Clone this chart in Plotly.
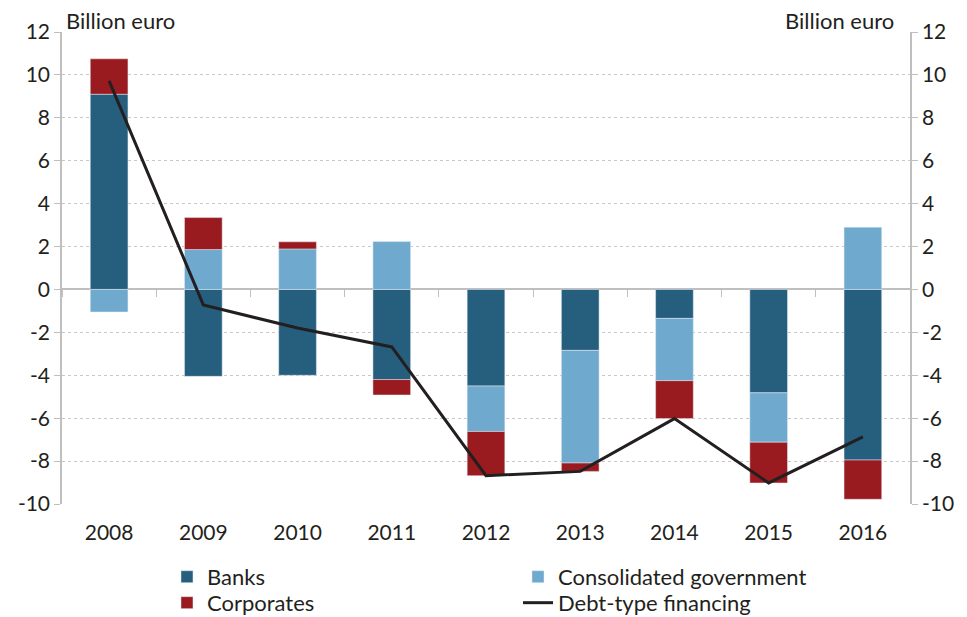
import plotly.graph_objects as go

years = [2008, 2009, 2010, 2011, 2012, 2013, 2014, 2015, 2016]
banks = [9.1, -4.05, -4.0, -4.2, -4.5, -2.84, -1.35, -4.82, -7.95]
government = [-1.05, 1.86, 1.89, 2.23, -2.12, -5.25, -2.9, -2.3, 2.9]
corporates = [1.65, 1.49, 0.33, -0.72, -2.06, -0.39, -1.77, -1.9, -1.83]
debt_financing = [9.72, -0.72, -1.8, -2.68, -8.68, -8.48, -6.02, -9.02, -6.87]

y_min, y_max = -10, 12
y_ticks = list(range(-10, 13, 2))
y_ticktext = [str(v) for v in y_ticks]
font_family = "Lato, 'Open Sans', sans-serif"
txt = "#231F20"
fs = 21

fig = go.Figure()
fig.add_bar(x=years, y=banks, name="Banks", marker_color="#265E7E", width=0.4, legend="legend")
fig.add_bar(x=years, y=government, name="Consolidated government", marker_color="#6FA9CD",
            width=0.4, legend="legend")
fig.add_bar(x=years, y=corporates, name="Corporates", marker_color="#9A1B1F", width=0.4,
            legend="legend2")
fig.add_scatter(x=years, y=debt_financing, name="Debt-type financing", mode="lines",
                line=dict(color=txt, width=3), legend="legend2")
# invisible trace to activate right axis
fig.add_scatter(x=years, y=debt_financing, yaxis="y2", mode="lines", showlegend=False,
                line=dict(width=0), hoverinfo="skip", opacity=0)

zero_pos = (0 - y_min) / (y_max - y_min)

legend_common = dict(orientation="h", xanchor="left", yanchor="top",
                     entrywidth=306, entrywidthmode="pixels", font=dict(size=22),
                     itemwidth=30, tracegroupgap=0, traceorder="normal",
                     bgcolor="rgba(0,0,0,0)")

fig.update_layout(
    width=959, height=609,
    margin=dict(l=54, r=57, t=24, b=113, autoexpand=False),
    barmode="relative",
    plot_bgcolor="white", paper_bgcolor="white",
    font=dict(family=font_family, size=fs, color=txt),
    xaxis=dict(range=[2007.5, 2016.5], tickvals=years, ticktext=[str(y) for y in years],
               showgrid=False, showline=False, ticks="", zeroline=False,
               ticklabelstandoff=14, tickfont=dict(size=fs)),
    xaxis2=dict(range=[2007.5, 2016.5], overlaying="x", anchor="free", position=zero_pos,
                tickvals=[y + 0.5 for y in [2007] + years], showticklabels=False,
                ticks="outside", ticklen=7, tickcolor="#BFBFBF", showgrid=False,
                showline=False, zeroline=False),
    yaxis=dict(range=[y_min, y_max], tickvals=y_ticks, ticktext=y_ticktext, showgrid=True,
               gridcolor="#C8C8C8", griddash="dot", gridwidth=1,
               zeroline=True, zerolinecolor="#BFBFBF", zerolinewidth=2,
               showline=True, linecolor="#BFBFBF", linewidth=1.5,
               ticks="outside", ticklen=6, tickcolor="#BFBFBF", tickfont=dict(size=fs)),
    yaxis2=dict(range=[y_min, y_max], tickvals=y_ticks, ticktext=y_ticktext, overlaying="y",
                side="right", showgrid=False, zeroline=False, showline=True, linecolor="#BFBFBF",
                linewidth=1.5, ticks="outside", ticklen=6, tickcolor="#BFBFBF",
                tickfont=dict(size=fs)),
    legend=dict(x=0.1238, y=-0.110, **legend_common),
    legend2=dict(x=0.1238, y=-0.165, **legend_common),
    annotations=[
        dict(text="Billion euro", xref="paper", yref="paper", x=0, y=1, xanchor="left",
             yanchor="bottom", xshift=2, yshift=-4, showarrow=False, font=dict(size=22)),
        dict(text="Billion euro", xref="paper", yref="paper", x=1, y=1, xanchor="right",
             yanchor="bottom", xshift=-14, yshift=-4, showarrow=False, font=dict(size=22)),
    ],
)
fig.add_trace(go.Scatter(x=[2008], y=[0], xaxis="x2", mode="markers", marker=dict(opacity=0),
                         showlegend=False, hoverinfo="skip"))

fig.write_html("out.html")
